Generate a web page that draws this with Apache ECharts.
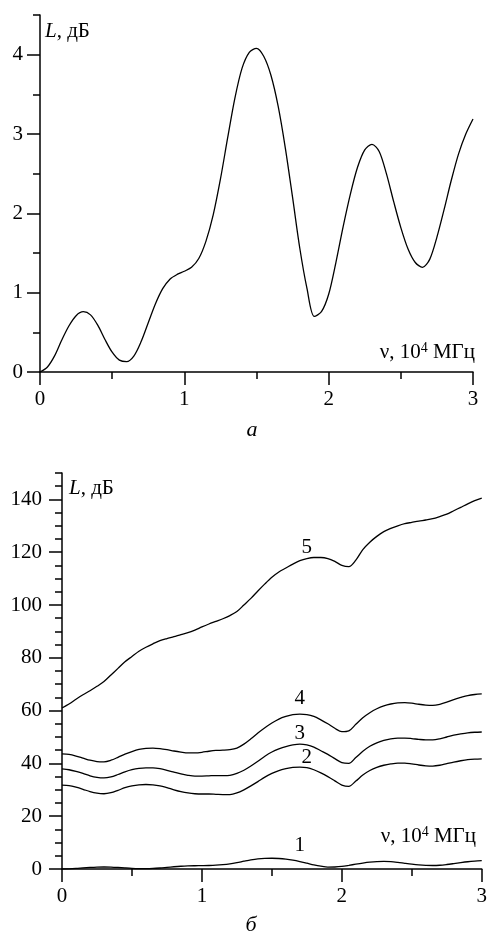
<!DOCTYPE html>
<html>
<head>
<meta charset="utf-8">
<script src="https://cdn.jsdelivr.net/npm/echarts@6/dist/echarts.min.js"></script>
<style>
html,body{margin:0;padding:0;background:#fff}
#chart{width:490px;height:933px}
</style>
</head>
<body>
<div id="chart"></div>
<script>
// частота, 10^4 МГц
var nu = [0,0.05,0.1,0.15,0.2,0.25,0.3,0.35,0.4,0.45,0.5,0.55,0.6,0.65,0.7,0.75,0.8,0.85,0.9,0.95,
  1,1.05,1.1,1.15,1.2,1.25,1.3,1.35,1.4,1.45,1.5,1.55,1.6,1.65,1.7,1.75,1.8,1.85,1.9,1.95,
  2,2.05,2.1,2.15,2.2,2.25,2.3,2.35,2.4,2.45,2.5,2.55,2.6,2.65,2.7,2.75,2.8,2.85,2.9,2.95,3];

// (a) and curve 1 on (б)
var lossA = [0,0.06,0.2,0.4,0.58,0.71,0.76,0.72,0.59,0.41,0.25,0.15,0.13,0.2,0.38,0.62,0.86,1.05,1.17,1.23,
  1.27,1.32,1.43,1.65,1.98,2.43,2.95,3.45,3.83,4.03,4.08,3.98,3.74,3.35,2.82,2.2,1.56,1.05,0.7,0.76,
  0.98,1.38,1.83,2.24,2.58,2.8,2.87,2.78,2.5,2.15,1.82,1.55,1.38,1.32,1.42,1.7,2.05,2.42,2.75,3.0,3.19];

var loss2 = [31.8,31.6,31,30.2,29.3,28.7,28.5,28.9,29.8,30.8,31.5,31.9,32,31.9,31.5,30.8,30,29.3,28.8,28.5,
  28.4,28.4,28.3,28.2,28.2,28.8,30,31.5,33.1,34.8,36.2,37.3,38,38.5,38.6,38.4,37.6,36.4,35,33.4,
  31.8,31.3,33.3,35.6,37.3,38.5,39.3,39.8,40.1,40.1,39.8,39.4,39.1,39,39.3,39.9,40.5,41,41.4,41.6,41.7];

var loss3 = [37.9,37.6,37,36.2,35.3,34.7,34.5,34.9,35.8,36.8,37.6,38.1,38.3,38.3,38,37.4,36.7,36,35.5,35.2,
  35.2,35.3,35.4,35.4,35.5,36.2,37.4,39,40.8,42.7,44.3,45.5,46.4,47,47.3,47,46.2,44.8,43.4,41.8,
  40.3,40,42.2,44.6,46.5,47.8,48.7,49.3,49.6,49.6,49.4,49.1,48.9,48.9,49.3,50,50.7,51.2,51.6,51.8,51.9];

var loss4 = [43.6,43.4,42.8,42,41.2,40.7,40.6,41.2,42.3,43.5,44.5,45.3,45.7,45.8,45.6,45.2,44.7,44.3,44,44,
  44.2,44.6,44.9,45,45.2,45.8,47.3,49.3,51.5,53.5,55.3,56.8,57.8,58.5,58.7,58.5,57.8,56.5,55,53.3,
  52,52.3,54.8,57.3,59.2,60.7,61.8,62.5,62.9,63,62.8,62.4,62.1,62,62.4,63.2,64.2,65,65.7,66.1,66.3];

var loss5 = [61,62.5,64.3,66,67.5,69.2,71,73.5,76,78.5,80.5,82.5,84,85.3,86.5,87.3,88,88.8,89.5,90.5,
  91.7,92.8,93.8,94.8,96,97.5,100,102.5,105.3,108,110.5,112.5,114,115.5,116.8,117.6,118,118,117.6,116.5,
  115,114.5,117,121,123.8,126,127.8,129,130,130.8,131.3,131.8,132.2,132.7,133.5,134.4,135.7,137,138.3,139.5,140.5];

var yTicksA = [0,1,2,3,4];
var yTicksB = [0,20,40,60,80,100,120,140];

var FONT = 'Liberation Serif';
var FS = 21;

function pairs(ys){
  return nu.map(function(x,i){ return [x, ys[i]]; });
}
function line(ys, g){
  return {type:'line', data:pairs(ys), xAxisIndex:g, yAxisIndex:g*2, smooth:0.3, showSymbol:false,
    symbol:'none', lineStyle:{color:'#000', width:1.3}, silent:true, animation:false};
}
// номер кривой - markPoint над точкой idx
function numbered(ys, idx, txt, dist){
  var s = line(ys, 1);
  s.markPoint = {symbol:'circle', symbolSize:0, silent:true, animation:false,
    label:{show:true, position:'top', distance:dist, formatter:txt, fontFamily:FONT, fontSize:FS, color:'#000'},
    data:[{coord:[nu[idx], ys[idx]]}]};
  return s;
}
function xAx(g){
  return {type:'value', gridIndex:g, min:0, max:3, interval:1,
    axisLine:{show:true, onZero:false, lineStyle:{color:'#000', width:1.5}},
    axisTick:{show:true, length:13, lineStyle:{color:'#000', width:1.5}},
    minorTick:{show:true, splitNumber:2, length:7, lineStyle:{color:'#000', width:1.5}},
    axisLabel:{margin:17, color:'#000', fontFamily:FONT, fontSize:FS},
    splitLine:{show:false}};
}
// подписанная ось (длинные штрихи) + ось с короткими штрихами
function yAxes(g, max, step, ticks, margin){
  return [
    {type:'value', gridIndex:g, position:'left', min:0, max:max,
      axisLine:{show:false},
      axisTick:{show:true, length:13, customValues:ticks, lineStyle:{color:'#000', width:1.5}},
      axisLabel:{margin:margin, customValues:ticks, color:'#000', fontFamily:FONT, fontSize:FS},
      splitLine:{show:false}},
    {type:'value', gridIndex:g, position:'left', offset:0, min:0, max:max, interval:step,
      axisLine:{show:true, onZero:false, lineStyle:{color:'#000', width:1.5}},
      axisTick:{show:true, length:7, lineStyle:{color:'#000', width:1.5}},
      axisLabel:{show:false}, splitLine:{show:false}}
  ];
}
function txt(x, y, text, size, italic){
  return {type:'text', x:x, y:y, silent:true, style:{text:text, fontFamily:FONT, fontSize:size,
    fontStyle: italic ? 'italic' : 'normal', fill:'#000', align:'center', verticalAlign:'middle'}};
}
function axName(x, y){
  return {type:'text', x:x, y:y, silent:true, style:{
    text:'{i|L}{n|, дБ}', verticalAlign:'middle', align:'left',
    rich:{i:{fontFamily:FONT, fontSize:FS, fontStyle:'italic', fill:'#000'},
          n:{fontFamily:FONT, fontSize:FS, fill:'#000'}}}};
}
function nuName(x, y){
  return {type:'text', x:x, y:y, silent:true, style:{
    text:'{n|ν, 10}{s|4}{n| МГц}', verticalAlign:'middle', align:'right',
    rich:{n:{fontFamily:FONT, fontSize:FS, fill:'#000'},
          s:{fontFamily:FONT, fontSize:14, fill:'#000', verticalAlign:'top'}}}};
}

var chart = echarts.init(document.getElementById('chart'), null, {renderer:'canvas'});
var ya = yAxes(0, 4.5, 0.5, yTicksA, 17);
var yb = yAxes(1, 150, 5, yTicksB, 20);

chart.setOption({
  backgroundColor:'#fff',
  animation:false,
  grid:[
    {left:40, top:15, width:433, height:357},
    {left:62, top:473, width:422, height:396}
  ],
  xAxis:[xAx(0), xAx(1)],
  yAxis:[ya[0], ya[1], yb[0], yb[1]],
  series:[
    line(lossA, 0),
    numbered(lossA, 34, '1', 6),
    numbered(loss2, 35, '2', 0),
    numbered(loss3, 34, '3', 0),
    numbered(loss4, 34, '4', 5),
    numbered(loss5, 35, '5', 1)
  ],
  graphic:[
    axName(45, 31),
    nuName(475, 352),
    txt(252, 430, 'а', 22, true),
    axName(69, 488),
    nuName(476, 836),
    txt(251, 925, 'б', 22, true)
  ]
});
</script>
</body>
</html>
